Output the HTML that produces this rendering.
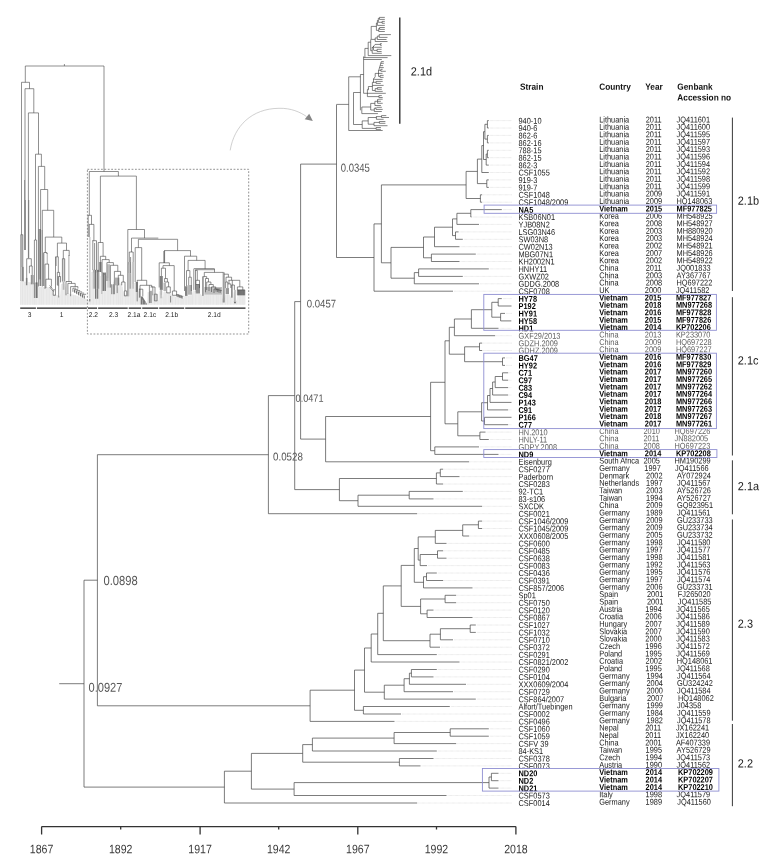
<!DOCTYPE html>
<html><head><meta charset="utf-8"><title>Phylogenetic tree</title>
<style>
html,body{margin:0;padding:0;background:#fff;}
body{width:765px;height:863px;overflow:hidden;}
svg{display:block;font-family:"Liberation Sans",sans-serif;text-rendering:geometricPrecision;}
.tr{fill:none;stroke:#444;stroke-width:0.7;}
.tr2{fill:none;stroke:#333;stroke-width:0.6;}
.dot{fill:none;stroke:#cbcbcb;stroke-width:0.5;stroke-dasharray:0.7 0.5;}
.nl{font-size:11.7px;fill:#565656;}
.hd{font-size:9px;font-weight:bold;fill:#111;}
.r{font-size:8.5px;fill:#1a1a1a;}
.rb{font-size:8.5px;font-weight:bold;fill:#000;}
.rl{font-size:8.5px;fill:#5e5e5e;}
.bx{fill:none;stroke:#8f8fd2;stroke-width:0.9;}
.bar{fill:none;stroke:#222;stroke-width:0.9;}
.bar2{fill:none;stroke:#222;stroke-width:1.3;}
.cl{font-size:12px;fill:#222;}
.ml{font-size:7px;fill:#222;}
.ax{font-size:12.2px;fill:#3c3c3c;}
</style></head><body>
<svg width="765" height="863" viewBox="0 0 765 863">
<path class="tr" d="M487.4 120.6H488.8M487.4 128H488.8M487.4 120.6V128M487.4 135.4H488.8M487.4 142.9H488.8M487.4 135.4V142.9M484.9 124.3H487.4M484.9 139.1H487.4M484.9 124.3V139.1M487.4 150.3H488.8M487.4 157.7H488.8M487.4 150.3V157.7M486.2 154H487.4M486.2 165.1H488.8M486.2 154V165.1M483.5 131.7H484.9M483.5 159.5H486.2M483.5 131.7V159.5M481.8 145.6H483.5M481.8 172.5H488.8M481.8 145.6V172.5M486.8 179.9H488.8M486.8 187.4H488.8M486.8 179.9V187.4M477.4 159.1H481.8M477.4 183.6H486.8M477.4 159.1V183.6M480.4 194.8H482.2M480.4 202.2H482.2M480.4 194.8V202.2M466.1 171.4H477.4M466.1 198.5H480.4M466.1 171.4V198.5M470.8 209.6H501.8M470.8 217H471.5M470.8 209.6V217M456.9 213.3H470.8M456.9 224.4H479M456.9 213.3V224.4M455.5 231.9H458.6M455.5 239.3H462.8M455.5 231.9V239.3M452.5 218.9H456.9M452.5 235.6H455.5M452.5 218.9V235.6M434.5 227.2H452.5M434.5 246.7H459.5M434.5 227.2V246.7M431.4 254.1H475.8M431.4 261.5H459.5M431.4 254.1V261.5M423.5 237H434.5M423.5 257.8H431.4M423.5 237V257.8M418.6 268.9H488.8M418.6 276.4H462.8M418.6 268.9V276.4M414.3 272.6H418.6M414.3 283.8H479M414.3 272.6V283.8M391 247.4H423.5M391 278.2H414.3M391 247.4V278.2M381.4 184.9H466.1M381.4 262.8H391M381.4 184.9V262.8M374 223.9H381.4M374 291.2H453M374 223.9V291.2M498.2 298.6H501.8M498.2 306H511.5M498.2 298.6V306M500.6 313.4H505M500.6 320.9H511.3M500.6 313.4V320.9M491.8 302.3H498.2M491.8 317.2H500.6M491.8 302.3V317.2M471.4 309.7H491.8M471.4 328.3H498.5M471.4 309.7V328.3M454.4 319H471.4M454.4 335.7H495.2M454.4 319V335.7M479.5 343.1H482.2M479.5 350.5H482.2M479.5 343.1V350.5M502.5 357.9H505M502.5 365.4H505M502.5 357.9V365.4M464.6 346.8H479.5M464.6 361.7H502.5M464.6 346.8V361.7M449.3 327.3H454.4M449.3 354.2H464.6M449.3 327.3V354.2M502.5 372.8H508.2M502.5 380.2H508.2M502.5 372.8V380.2M495.2 376.5H502.5M495.2 387.6H508.2M495.2 376.5V387.6M492.6 382H495.2M492.6 395H508.2M492.6 382V395M490 388.5H492.6M490 402.4H511.5M490 388.5V402.4M487.5 395.5H490M487.5 409.9H508.2M487.5 395.5V409.9M484.5 417.3H511.5M484.5 424.7H508.2M484.5 417.3V424.7M481.6 402.7H487.5M481.6 421H484.5M481.6 402.7V421M479.9 432.1H485.5M479.9 439.5H488.8M479.9 432.1V439.5M457.8 411.8H481.6M457.8 435.8H479.9M457.8 411.8V435.8M445 340.8H449.3M445 423.8H457.8M445 340.8V423.8M434.8 446.9H479M434.8 454.4H498.5M434.8 446.9V454.4M430.6 382.3H445M430.6 450.7H434.8M430.6 382.3V450.7M325.6 416.5H430.6M325.6 461.8H469.2M325.6 416.5V461.8M440.3 469.2H443.2M440.3 476.6H459.5M440.3 469.2V476.6M436.4 472.9H440.3M436.4 484H443.2M436.4 472.9V484M409.2 491.4H462.8M409.2 498.9H433.5M409.2 491.4V498.9M358 495.2H409.2M358 506.3H482.2M358 495.2V506.3M339.4 478.5H436.4M339.4 500.7H358M339.4 478.5V500.7M478.4 521.1H482.2M478.4 528.5H482.2M478.4 521.1V528.5M462.7 524.8H478.4M462.7 536H469.2M462.7 524.8V536M435.3 530.4H462.7M435.3 543.4H446.5M435.3 530.4V543.4M437.5 550.8H443.2M437.5 558.2H446.5M437.5 550.8V558.2M420.2 554.5H437.5M420.2 565.6H427M420.2 554.5V565.6M418.2 536.9H435.3M418.2 560.1H420.2M418.2 536.9V560.1M426.5 573H436.8M426.5 580.5H443.2M426.5 573V580.5M423.5 576.7H426.5M423.5 587.9H472.5M423.5 576.7V587.9M414.3 548.5H418.2M414.3 582.3H423.5M414.3 548.5V582.3M445.1 595.3H456.2M445.1 602.7H456.2M445.1 595.3V602.7M427.1 610.1H433.5M427.1 617.5H472.5M427.1 610.1V617.5M420.6 599H445.1M420.6 613.8H427.1M420.6 599V613.8M401.2 565.4H414.3M401.2 606.4H420.6M401.2 565.4V606.4M470.2 625H475.8M470.2 632.4H475.8M470.2 625V632.4M440.4 628.7H470.2M440.4 639.8H453M440.4 628.7V639.8M430 634.2H440.4M430 647.2H440M430 634.2V647.2M383.3 585.9H401.2M383.3 640.7H430M383.3 585.9V640.7M377.7 613.3H383.3M377.7 654.6H436.8M377.7 613.3V654.6M371.2 634H377.7M371.2 662H459.5M371.2 634V662M411.4 669.5H436.8M411.4 676.9H433.5M411.4 669.5V676.9M409.4 673.2H411.4M409.4 684.3H466M409.4 673.2V684.3M404.1 678.7H409.4M404.1 691.7H453M404.1 678.7V691.7M384.3 685.2H404.1M384.3 699.1H475.8M384.3 685.2V699.1M364.5 648H371.2M364.5 692.2H384.3M364.5 648V692.2M363.4 706.5H449.8M363.4 714H401M363.4 706.5V714M354.5 670.1H364.5M354.5 710.3H363.4M354.5 670.1V710.3M310.1 690.2H354.5M310.1 721.4H394.5M310.1 690.2V721.4M450.2 728.8H488.8M450.2 736.2H488.8M450.2 728.8V736.2M394.1 732.5H450.2M394.1 743.6H456.2M394.1 732.5V743.6M312.4 738.1H394.1M312.4 751H436.8M312.4 738.1V751M399.4 758.5H433.5M399.4 765.9H420.5M399.4 758.5V765.9M302.7 744.6H312.4M302.7 762.2H399.4M302.7 744.6V762.2M491.4 773.3H498.5M491.4 780.7H498.5M491.4 773.3V780.7M489 777H491.4M489 788.1H498.5M489 777V788.1M294.1 782.6H489M294.1 795.5H446.5M294.1 782.6V795.5M251.4 753.4H302.7M251.4 789.1H294.1M251.4 753.4V789.1M224.4 771.2H251.4M224.4 803H417.2M224.4 771.2V803M336.5 104.6V257.5M336.5 257.5H374M300.6 164.1H336.5M300.6 439.1H325.6M300.6 164.1V439.1M294.7 301.6H300.6M294.7 489.6H339.4M294.7 301.6V489.6M268.4 395.6H294.7M268.4 513.7H417.2M268.4 395.6V513.7M97.4 454.7H268.4M97.4 705.8H310.1M97.4 454.7V705.8M84 580.2H97.4M84 787.1H224.4M84 580.2V787.1M59.2 683.7H84"/>
<path class="dot" d="M489.9 120.6H511.8M489.9 128H511.8M489.9 135.4H511.8M489.9 142.9H511.8M489.9 150.3H511.8M489.9 157.7H511.8M489.9 165.1H511.8M489.9 172.5H511.8M489.9 179.9H511.8M489.9 187.4H511.8M483.4 194.8H511.8M483.4 202.2H511.8M502.9 209.6H511.8M472.7 217H511.8M480.2 224.4H511.8M459.8 231.9H511.8M463.9 239.3H511.8M460.7 246.7H511.8M476.9 254.1H511.8M460.7 261.5H511.8M489.9 268.9H511.8M463.9 276.4H511.8M480.2 283.8H511.8M454.2 291.2H511.8M502.9 298.6H511.8M506.2 313.4H511.8M499.7 328.3H511.8M496.4 335.7H511.8M483.4 343.1H511.8M483.4 350.5H511.8M506.2 357.9H511.8M506.2 365.4H511.8M509.4 372.8H511.8M509.4 380.2H511.8M509.4 387.6H511.8M509.4 395H511.8M509.4 409.9H511.8M509.4 424.7H511.8M486.7 432.1H511.8M489.9 439.5H511.8M480.2 446.9H511.8M499.7 454.4H511.8M470.4 461.8H511.8M444.4 469.2H511.8M460.7 476.6H511.8M444.4 484H511.8M463.9 491.4H511.8M434.7 498.9H511.8M483.4 506.3H511.8M483.4 521.1H511.8M483.4 528.5H511.8M470.4 536H511.8M447.7 543.4H511.8M444.4 550.8H511.8M447.7 558.2H511.8M428.2 565.6H511.8M437.9 573H511.8M444.4 580.5H511.8M473.7 587.9H511.8M457.4 595.3H511.8M457.4 602.7H511.8M434.7 610.1H511.8M473.7 617.5H511.8M476.9 625H511.8M476.9 632.4H511.8M454.2 639.8H511.8M441.2 647.2H511.8M437.9 654.6H511.8M460.7 662H511.8M437.9 669.5H511.8M434.7 676.9H511.8M467.2 684.3H511.8M454.2 691.7H511.8M476.9 699.1H511.8M450.9 706.5H511.8M402.2 714H511.8M395.7 721.4H511.8M489.9 728.8H511.8M489.9 736.2H511.8M457.4 743.6H511.8M437.9 751H511.8M434.7 758.5H511.8M421.7 765.9H511.8M499.7 773.3H511.8M499.7 780.7H511.8M499.7 788.1H511.8M447.7 795.5H511.8M418.4 803H511.8M418.4 513.7H511.8"/>
<path class="tr2" d="M336.5 104.4H348.7M348.7 76.8V130.5M348.7 76.8H360.4M348.7 130.5H382.7M360.4 74.5V110.3M360.4 74.5H363.6M363.6 56.4V93.3M363.6 93.3H385.8M353.5 92.5H360.4M353.5 92.5V124.5M353.5 124.5H362.2M362.2 120.9V128.4M362.2 128.4H376.1M376.1 127.5V129.4M376.1 127.5H380.9M376.1 129.4H380.9M362.2 120.9H368.2M368.2 117.5V124.2M368.2 117.5H376.4M376.4 116.3V119.3M376.4 116.6H381.5M381.5 115.6V117.5M381.5 115.6H386.3M381.5 117.5H389M376.4 119.3H383.6M368.2 124.2H374M374 122.4V125.7M374 122.4H379.4M379.4 121.5V123.3M379.4 121.5H385.4M379.4 123.3H385.4M374 125.7H387.5M361.8 107V113.6M361.8 113.6H377.9M361.8 107H370.7M370.7 103.4V110M370.7 103.4H374.9M374.9 101.3V105.5M374.9 101.3H377.6M377.6 99.2V103.3M378.8 99.2H382.7M377.6 100L378.8 99.2M377.6 101.3H380.9M377.6 103.3H382.7M374.9 105.5H380.9M370.7 110H374.3M374.3 108.2V111.5M374.3 108.2H376M376 107.3V109.4M376.7 107.3H381.8M376 109.4H382.7M374.3 111.5H381.8M367.4 89.8V96.6M367.4 96.6H378.9M378.9 95.6V97.5M378.9 95.6H381.8M378.9 97.5H382.7M367.4 89.8L368.4 88.5M368.4 86.5V90.2M368.4 86.5H372.4M372.4 82.3V90.5M372.4 85.4H383.6M372.4 90.5H375.2M375.2 88.6V91.4M375.2 88.6H377.3M377.3 87.6V89.3M377.3 87.6H381.8M377.3 89.3H381.8M375.2 91.4H382.7M372.4 82.3H373.5M373.5 78.5V82.7M373.5 82.3H376.1M376.1 81.4V83.4M376.1 81.4H382.7M376.1 83.4H380.8M374.2 79.4H382.5M373.5 79.4L375.2 76.6M375.2 73.4V76.6M375.2 73.4H382.5M378.5 70.5V76.4M378.5 76.4H380.1M380.1 75.4V77.4M380.1 75.4H383.6M380.1 77.4H383.6M381.3 61.6H383.8M380.7 63.3H383.8M380.2 65.6H383.1M379.6 67.6H383.8M379.1 70.3H380.9M380.9 69.3V71.3M380.9 69.3H382.7M380.9 71.3H385.8M381.3 61.6L378.5 71.1M363.6 59.5H381.8M364.9 57.6H387.6M363.6 57.6H364.9M364.9 48.4V57.6M364.9 48.4H368.2M368.2 42.2V55.6M368.2 55.6H391.3M368.2 42.2H370.7M370.7 39.4V50.7M370.7 50.7H372.2M372.2 47.1V53.3M372.2 53.3H381.8M372.2 48L375.1 44.4M375.1 44.4H380.4M380.4 43.6V45.3M380.4 43.6H381.8M380.4 45.3H381.8M374.2 47.3H381.8M373.8 50.4H377.1M377.1 49.3V51.5M377.1 49.3H381.6M377.1 51.5H381.6M373.5 46V50.4M371.2 26.4V39.4M371.2 39.4H375.2M375.2 37.9V41.5M375.2 41.5H387.5M375.2 37.9H377.3M377.3 36.1V39.5M377.3 39.5H386.5M377.3 36.1H379.2M379.2 34.6V37.4M379.2 34.6H390.9M379.2 37.4H387.5M371.2 26.4H376.4M376.4 23V30.4M376.4 23H377.4M377.4 20.5V25.4M377.4 25.4H384.8M377.4 20.5H378.3M378.3 18.4V22.3M378.3 22.3H382.1M382.1 21.4V23.3M382.1 21.4H384.8M382.1 23.3H384.8M378.3 18.4H379.4M379.4 17.4V19.4M379.4 17.4H384.8M379.4 19.4H384.8M376.4 30.4H378.7M378.7 28.5V31.5M378.7 31.5H384.8M378.7 28.5H379.6M379.6 27.5V29.4M379.6 27.5H384.8M379.6 29.4H384.8"/>
<polygon points="20.2,304.8 20.2,281 36,283 37,286.5 52,287.5 54,294 60,296 61,284 65,284 66,293 75,295 86.5,299 88,300 90.5,300 91,272 99,272 100,276 104,276 105,274 110,280 111,285 113,285 114,279 118,289 119,283 122,284 123,291 126.5,296 127.5,296 128,264 131,264 132,283 135.5,283 136,290 139.5,292 140,297 147,303 147.5,292 150,292 151,289 153,296 154,293 157,301 158.5,300 159,290 163,298 164,291 170,293 172,295.5 183,298.5 184.5,296 192,295 193,290 200,293.5 202.5,296 204.5,294.7 222,294.7 223,302 225.5,294 229,294 231.5,297.7 233,297.7 234,290 234.7,303 236,303 237.5,295.3 245.5,295.3 245.5,304.8" fill="#ececec"/><rect x="21.6" y="266.9" width="2.4" height="14.6" fill="#b4b4b4"/><rect x="25.8" y="277.9" width="1.8" height="7.3" fill="#b4b4b4"/><rect x="31.4" y="275" width="1.6" height="9.3" fill="#c0c0c0"/><rect x="35.4" y="282.4" width="2.3" height="15.6" fill="#8c8c8c"/><rect x="38.6" y="279.7" width="2.3" height="6.3" fill="#c4c4c4"/><rect x="55.6" y="257" width="1.4" height="9" fill="#c0c0c0"/><rect x="62.6" y="259" width="1.9" height="22.5" fill="#d2d2d2"/><rect x="62.6" y="281.5" width="1.9" height="8.3" fill="#b8b8b8"/><rect x="57.4" y="276" width="1.2" height="10" fill="#b0b0b0"/><rect x="88.9" y="237" width="1.7" height="61.7" fill="#cfcfcf"/><rect x="89.2" y="299" width="1.2" height="2.5" fill="#777"/><rect x="92.8" y="269.8" width="6.6" height="18.9" fill="#adadad"/><rect x="95.5" y="288.7" width="2.3" height="10" fill="#999"/><rect x="98.9" y="262" width="2.8" height="10" fill="#a2a2a2"/><rect x="101" y="272" width="1.8" height="22" fill="#c6c6c6"/><rect x="102.9" y="272.6" width="2.6" height="18.3" fill="#8a8a8a"/><rect x="107.2" y="264.2" width="2.8" height="16.7" fill="#bdbdbd"/><rect x="107.2" y="280.9" width="2.8" height="6.7" fill="#d0d0d0"/><rect x="115" y="277.6" width="4.4" height="7.7" fill="#b0b0b0"/><rect x="127.9" y="262" width="2.7" height="11.1" fill="#bcbcbc"/><rect x="129.4" y="273.1" width="1.7" height="15.6" fill="#8c8c8c"/><rect x="127.9" y="273.1" width="1.5" height="23.3" fill="#cdcdcd"/><rect x="132.2" y="262" width="1.7" height="26.7" fill="#bdbdbd"/><rect x="135.6" y="282" width="2.2" height="10" fill="#858585"/><rect x="139.3" y="289" width="1.7" height="8.6" fill="#b5b5b5"/><rect x="149.6" y="291" width="1.4" height="12" fill="#c2c2c2"/><rect x="154.6" y="294.4" width="2.4" height="6.4" fill="#cfcfcf"/><rect x="159.8" y="276" width="3" height="13.9" fill="#808080"/><rect x="160.2" y="289.9" width="2" height="8.4" fill="#b9b9b9"/><rect x="163.5" y="282.7" width="2.5" height="8.3" fill="#b5b5b5"/><rect x="185" y="286.3" width="2.5" height="9.6" fill="#858585"/><rect x="187.5" y="285" width="4.5" height="9.7" fill="#b3b3b3"/><rect x="195.5" y="284.5" width="4.5" height="9" fill="#8f8f8f"/><rect x="202.8" y="277" width="1.2" height="18.9" fill="#bdbdbd"/><rect x="204.3" y="287" width="17.7" height="7.7" fill="#c0c0c0"/><rect x="225.6" y="288.1" width="3.4" height="5.9" fill="#999"/><rect x="231.7" y="285" width="1.3" height="12.7" fill="#b5b5b5"/><rect x="237.5" y="290" width="7.2" height="5.3" fill="#a5a5a5"/><rect x="38.6" y="229" width="2.3" height="50.7" fill="#9c9c9c"/><polygon points="140.6,296.4 142.5,296.4 147.2,304.6 140.6,304.6" fill="#777"/><path d="M20.5 281.5V304.8M22.5 281.8V304.8M25.1 282.1V304.8M27.4 282.4V304.8M30.1 282.7V304.8M32.8 283.1V304.8M34.5 283.3V304.8M36.1 284V304.8M39.2 287.1V304.8M41.3 287.3V304.8M43.3 287.4V304.8M46.7 287.6V304.8M49.2 287.8V304.8M52.3 288.9V304.8M54.7 294.7V304.8M57.5 295.7V304.8M59.3 296.3V304.8M62.1 284.5V304.8M65.3 286.8V304.8M67.8 293.9V304.8M70.7 294.6V304.8M73.5 295.2V304.8M75.3 295.6V304.8M78.2 296.6V304.8M80.9 297.5V304.8M83 298.3V304.8M84.7 298.9V304.8M90.3 300.5V304.8M93.2 272.5V304.8M96.4 272.5V304.8M99.3 273.5V304.8M102.5 276.5V304.8M104.8 274.9V304.8M107.9 277.9V304.8M110.3 281.8V304.8M113.5 282.2V304.8M116.7 286.3V304.8M118.5 286.5V304.8M120.3 283.9V304.8M122.3 286.9V304.8M125.7 295.3V304.8M128.1 264.5V304.8M130.8 264.5V304.8M132.9 283.5V304.8M135.4 283.5V304.8M137.7 291.5V304.8M140 297.2V304.8M142.6 299.7V304.8M145.3 302V304.8M148.5 292.5V304.8M151.3 290.7V304.8M154.6 295.1V304.8M157.7 301V304.8M161.1 294.8V304.8M163.9 292V304.8M165.8 292.1V304.8M169 293.2V304.8M172.3 296.1V304.8M175.5 297V304.8M178.2 297.7V304.8M181.1 298.5V304.8M183 298.9V304.8M186.1 296.3V304.8M188.8 295.9V304.8M190.9 295.7V304.8M192.6 292.6V304.8M195.7 291.9V304.8M199.1 293.6V304.8M200.9 294.9V304.8M203.9 295.6V304.8M206.2 295.2V304.8M208.1 295.2V304.8M210.2 295.2V304.8M213.2 295.2V304.8M216.4 295.2V304.8M218.1 295.2V304.8M220.8 295.2V304.8M222.5 298.6V304.8M225.4 294.9V304.8M227.6 294.5V304.8M230.7 297.1V304.8M234.1 292.5V304.8M236.6 300.3V304.8M240 295.8V304.8M242.2 295.8V304.8M243.9 295.8V304.8" fill="none" stroke="#dfdfdf" stroke-width="0.5"/><path d="M68.6 255V281.5M69.1 255V281.5M47.1 253V264M47.5 253V264M42 230V286M43.6 253V286" fill="none" stroke="#b4b4b4" stroke-width="0.7"/><path d="M24.6 180V250M25.4 200V250M28.8 200V258M21.8 235V267M163.6 251V263M164.4 251V263" fill="none" stroke="#8a8a8a" stroke-width="0.7"/><path d="M25.3 66H104M64.4 64V66M25.3 66V82.3M104 66V171.5M21.5 82.3H29.5M21.5 82.3V234.7M29.5 82.3V88.7M20.8 234.7V281M22.8 234.7V281M20.8 234.7H22.8M25 88.7H33.8M25 88.7V250M33.8 88.7V112.9M28.4 112.9H38.5M28.4 112.9V258.2M38.5 112.9V154.2M35.5 154.2H41.4M35.5 154.2V240M41.4 154.2V166.4M34.4 240H36.6M34.4 240V298M36.6 240V298M38.4 166.4H44.7M38.4 166.4V286.5M44.7 166.4V189.5M40.6 189.5H47.7M40.6 189.5V286M47.7 189.5V210.3M42.3 210.3H53.7M42.3 210.3V286.5M53.7 210.3V237.1M26.7 258.7H31.3M26.7 258.7V285.2M31.3 258.7V266M29.4 266H32.2M29.4 266V273.3M32.2 266V275M31.3 275V284.3M33.1 275V284.3M45.3 237.1H61.8M45.3 237.1V252.5M43.8 252.5H46.9M43.8 252.5V286M46.9 252.5V254M45 264.1H48.6M45 264.1V288.9M48.6 264.1V279.2M45.9 279.2H51.4M45.9 279.2V288M51.4 279.2V286.6M49.6 287L53.7 291.6M49.6 285.5L52.5 288.5M53.2 289.8H55M53.2 289.8V295.3M53.2 295.3H55.5M61.8 237.1V243.1M57.4 243.1H66.5M57.4 243.1V256.8M55.5 256.8H58.3M55.5 256.8V295.3M58.3 256.8V272.4M57.3 272.4H59.6M57.3 272.4V285.2M59.6 272.4V276.5M58.7 276.5H60.5M58.7 276.5V297.5M60.5 276.5V282.4M66.5 243.1V250.4M63.3 250.4H69.2M63.3 250.4V258.7M62.4 258.7H64.7M62.4 258.7V281.5M64.7 258.7V281.5M69.2 250.4V256M66 281.5H71.5M66 281.5V295.3M71.5 281.5V283.4M67.9 283.4H75.2M67.9 283.4V294M75.2 283.4V286.6M70.6 286.6H77.9M70.6 286.6V296.2M77.9 286.6V288.5M72.9 288.2H76.1M72.9 288.2V291.8M74.5 289.4V292.4M74.9 289.4H78.1M74.9 289.4V293M76.5 290.6V293.6M76.9 290.6H80.1M76.9 290.6V294.2M78.5 291.8V294.8M78.9 291.9H82.1M78.9 291.9V295.5M80.5 293.1V296.1M80.9 293.1H84.1M80.9 293.1V296.7M82.5 294.3V297.3M82.9 294.3H86.1M82.9 294.3V297.9M84.5 295.5V298.5M89.3 171.5H118.4M89.3 171.5V215.3M118.4 171.5V176.1M88 215.3H91.5M88.2 215.3V237M91.5 215.3V224.4M89.1 224.4H93.9M89.3 224.4V237M93.9 224.4V240.7M92.3 240.7H96.5M92.8 240.7V270M96.5 240.7V270M94.6 243V270M95.5 270V298.7M97.8 270V298.7M100.4 176.1H136.4M100.4 176.1V242.5M136.4 176.1V229.5M98.2 242.5H103.1M98.2 242.5V272M103.1 242.5V256.3M100.4 256.3H105.7M100.4 256.3V272M105.7 256.3V259.6M102.1 259.6H109.2M102.1 259.6V272.6M109.2 259.6V262.6M106.9 262.6H113.4M106.9 262.6V281M113.4 262.6V265.3M110.4 265.3H117.8M110.4 265.3V287.6M117.8 265.3V271.4M114.4 271.4H120.6M114.4 271.4V294.2M120.6 271.4V275.3M118.3 275.3H123.3M118.3 275.3V285.3M123.3 275.3V282M121.7 282H125M121.7 282V285.3M125 282V290.9M124.4 290.9H126.7M124.4 290.9V295.9M126.7 290.9V295.9M124.4 295.9H126.7M111.7 284.2V294.2M113.3 284.2V294.2M117.2 285V293.1M103 272.6V291M105.4 272.6V291M127.8 229.5H144.5M127.8 229.5V296.3M144.5 229.5V238.1M131.5 238.1H158.3M138.4 239.3H177.6M131.5 238.1V252M129.3 252H133.2M129.3 252V262M133.2 252V262M130.6 257V273M138.4 239.3V247.6M135.2 247.6H141.7M135.2 247.6V282M141.7 247.6V280.3M137.2 280.3H146.7M137.2 280.3V301.4M146.7 280.3V285.3M140 285.3H151.7M140 285.3V289M151.7 285.3V287M139.4 288.7V297.6M139.4 289.2H142.8M142.8 289.2V296.4M150.6 287H155M149.4 285.3V303.1M151.1 290.9V303M152.8 286.4V295.3M155 287V294.2M154.4 294.2H157.2M154.4 294.2V300.9M157.2 294.2V300.9M154.4 300.9H157.2M177.6 239.3V250.6M164.1 250.6H190.7M164.6 250.6V262.8M159.2 262.8H169.4M159.2 262.8V287.5M169.4 262.8V265.6M163 265.6H174.2M163 265.6V268.2M174.2 265.6V291M172.4 291H176.6M172.4 291V295.3M176.6 291V295.3M172.4 295.3H176.6M161.4 268.2H165.5M161.4 268.2V276M165.5 268.2V278.5M164.6 278.5H167.4M164.6 278.5V282M167.4 278.5V282M164.6 282H168.6M168.6 282V286.9M166.7 286.9H170.3M166.7 286.9V292.9M170.3 286.9V292.9M166.7 292.9H170.3M170.6 295.9V302.5M176.6 294.6H178.8M176.8 294.6V296.6M177.8 294.9V296.9M178.1 295.2H180.3M178.3 295.2V297.2M179.3 295.5V297.5M179.6 295.7H181.8M179.8 295.7V297.7M180.8 296V298M181.1 296.3H183.3M181.3 296.3V298.3M182.3 296.6V298.6M190.5 250.6V256.2M184.5 256.2H196.7M184.5 256.2V291M196.7 256.2V260.4M188.1 260.4H205.1M188.1 260.4V270.6M205.1 260.4V268.8M186.5 270.6H189.9M186.5 270.6V286.3M189.9 270.6V277.2M188.7 277.2H191.3M188.7 277.2V285M191.3 277.2V291M194.1 268.6H214.5M195.5 269.7H214.5M193.8 268.6V289.9M195.5 269.7V289.9M195.5 270.4H197.3M197.3 270.4V280.3M195.9 280.3H199.5M195.9 280.3V284.5M199.5 280.3V288.1M195.9 284.5H199.5M214.5 268.8V272.4M204.3 272.4H223.5M204.3 272.4V276.6M202.7 276.6H206.7M202.7 276.6V295.9M206.7 276.6V278.5M205.5 278.5H208.5M205.5 278.5V292.3M208.5 278.5V282M206.7 282H210.9M206.7 282V290M210.9 282V284.5M209 284.5H213.3M209 284.5V291M213.3 284.5V286.9M211.5 286.9H215.7M211.5 286.9V292M215.7 286.9V289M214 289H220.5M214 289V293M216 289V291.6M216 289.3H217.6M217.4 289.4V292.1M217.4 289.8H219M218.8 289.9V292.5M218.8 290.2H220.4M220.2 290.3V292.9M220.2 290.6H221.8M223.2 272.4V302.5M224.2 272.4V302.5M224.2 274.2H228.4M228.4 274.2V277.2M226 277.2H231.6M226 277.2V282M231.6 277.2V280.3M228.4 280.3H239.8M225.6 282H227.8M225.6 282V288.1M227.8 282V288.1M229 280.3V283.9M227.8 283.9H230.8M230.8 283.9V288M232.3 280.3V285M231.6 285H234.4M231.6 285V297.7M234.4 285V289.9M235 289.9V303.1M234.3 301.8L235 303.3M235.7 301.8L235 303.3M239.8 280.3V286.9M237.4 286.9H242.8M237.4 286.9V295.3M242.8 286.9V289.9M237.4 289.9H244.8M244.8 289.9V295.3M238.5 289.9V295.3M239.6 289.9V295.3M240.7 289.9V295.3M241.8 289.9V295.3M242.9 289.9V295.3M243.9 289.9V295.3" fill="none" stroke="#444" stroke-width="0.6"/><path d="M20.2 308.2H35.9M36.9 308.2H86.9M87.9 308.2H97.1M98.1 308.2H127.7M128.7 308.2H141.2M142.2 308.2H158.2M159.2 308.2H184.2M185.2 308.2H245.5" fill="none" stroke="#1e1e1e" stroke-width="1.3"/><text transform="translate(29.6 317.1) scale(0.95 1) rotate(0.03)" class="ml" text-anchor="middle">3</text><text transform="translate(61.6 317.1) scale(0.95 1) rotate(0.03)" class="ml" text-anchor="middle">1</text><text transform="translate(93.3 317.1) scale(0.95 1) rotate(0.03)" class="ml" text-anchor="middle">2.2</text><text transform="translate(113.6 317.1) scale(0.95 1) rotate(0.03)" class="ml" text-anchor="middle">2.3</text><text transform="translate(133.9 317.1) scale(0.95 1) rotate(0.03)" class="ml" text-anchor="middle">2.1a</text><text transform="translate(149.9 317.1) scale(0.95 1) rotate(0.03)" class="ml" text-anchor="middle">2.1c</text><text transform="translate(171.8 317.1) scale(0.95 1) rotate(0.03)" class="ml" text-anchor="middle">2.1b</text><text transform="translate(214.2 317.1) scale(0.95 1) rotate(0.03)" class="ml" text-anchor="middle">2.1d</text>
<rect x="87.4" y="169.3" width="161.3" height="164.7" fill="none" stroke="#4a4a4a" stroke-width="0.6" stroke-dasharray="1.8 1.6"/>
<path d="M230.2 150.4C234 126 252 108.5 279 108.3C291 108 300 112 306.5 116.5" fill="none" stroke="#b0b0b0" stroke-width="0.6"/>
<path d="M304.7 119.2L309.2 113.8L312.8 121.1Z" fill="#858585"/>
<text transform="translate(340.8 171.8) scale(0.813 1) rotate(0.03)" class="nl" style="font-size:11.7px">0.0345</text>
<text transform="translate(306.8 307.6) scale(0.855 1) rotate(0.03)" class="nl" style="font-size:11.2px">0.0457</text>
<text transform="translate(295.6 401.7) scale(0.869 1) rotate(0.03)" class="nl" style="font-size:10.5px">0.0471</text>
<text transform="translate(273 460.4) scale(0.865 1) rotate(0.03)" class="nl" style="font-size:11.3px">0.0528</text>
<text transform="translate(103.5 584.9) scale(0.856 1) rotate(0.03)" class="nl" style="font-size:13.1px">0.0898</text>
<text transform="translate(88.5 691.8) scale(0.863 1) rotate(0.03)" class="nl" style="font-size:12.85px">0.0927</text>
<text transform="translate(520 89.7) scale(0.92 1) rotate(0.03)" class="hd">Strain</text>
<text transform="translate(599.2 89.7) scale(0.92 1) rotate(0.03)" class="hd">Country</text>
<text transform="translate(645.3 89.7) scale(0.92 1) rotate(0.03)" class="hd">Year</text>
<text transform="translate(677.3 89.7) scale(0.92 1) rotate(0.03)" class="hd">Genbank</text>
<text transform="translate(677.3 100.5) scale(0.92 1) rotate(0.03)" class="hd">Accession no</text>
<text transform="translate(518.5 123.65) scale(0.87 1) rotate(0.03)" class="r">940-10</text>
<text transform="translate(599.2 122.4) scale(0.87 1) rotate(0.03)" class="r">Lithuania</text>
<text transform="translate(645.7 122.4) scale(0.87 1) rotate(0.03)" class="r">2011</text>
<text transform="translate(676.5 122.4) scale(0.87 1) rotate(0.03)" class="r">JQ411601</text>
<text transform="translate(518.5 131.07) scale(0.87 1) rotate(0.03)" class="r">940-6</text>
<text transform="translate(599.2 129.82) scale(0.87 1) rotate(0.03)" class="r">Lithuania</text>
<text transform="translate(645.7 129.82) scale(0.87 1) rotate(0.03)" class="r">2011</text>
<text transform="translate(676.5 129.82) scale(0.87 1) rotate(0.03)" class="r">JQ411600</text>
<text transform="translate(518.5 138.48) scale(0.87 1) rotate(0.03)" class="r">862-6</text>
<text transform="translate(599.2 137.23) scale(0.87 1) rotate(0.03)" class="r">Lithuania</text>
<text transform="translate(645.7 137.23) scale(0.87 1) rotate(0.03)" class="r">2011</text>
<text transform="translate(676.5 137.23) scale(0.87 1) rotate(0.03)" class="r">JQ411595</text>
<text transform="translate(518.5 145.9) scale(0.87 1) rotate(0.03)" class="r">862-16</text>
<text transform="translate(599.2 144.65) scale(0.87 1) rotate(0.03)" class="r">Lithuania</text>
<text transform="translate(645.7 144.65) scale(0.87 1) rotate(0.03)" class="r">2011</text>
<text transform="translate(676.5 144.65) scale(0.87 1) rotate(0.03)" class="r">JQ411597</text>
<text transform="translate(518.5 153.32) scale(0.87 1) rotate(0.03)" class="r">788-15</text>
<text transform="translate(599.2 152.07) scale(0.87 1) rotate(0.03)" class="r">Lithuania</text>
<text transform="translate(645.7 152.07) scale(0.87 1) rotate(0.03)" class="r">2011</text>
<text transform="translate(676.5 152.07) scale(0.87 1) rotate(0.03)" class="r">JQ411593</text>
<text transform="translate(518.5 160.74) scale(0.87 1) rotate(0.03)" class="r">862-15</text>
<text transform="translate(599.2 159.49) scale(0.87 1) rotate(0.03)" class="r">Lithuania</text>
<text transform="translate(645.7 159.49) scale(0.87 1) rotate(0.03)" class="r">2011</text>
<text transform="translate(676.5 159.49) scale(0.87 1) rotate(0.03)" class="r">JQ411596</text>
<text transform="translate(518.5 168.15) scale(0.87 1) rotate(0.03)" class="r">862-3</text>
<text transform="translate(599.2 166.9) scale(0.87 1) rotate(0.03)" class="r">Lithuania</text>
<text transform="translate(645.7 166.9) scale(0.87 1) rotate(0.03)" class="r">2011</text>
<text transform="translate(676.5 166.9) scale(0.87 1) rotate(0.03)" class="r">JQ411594</text>
<text transform="translate(518.5 175.57) scale(0.87 1) rotate(0.03)" class="r">CSF1055</text>
<text transform="translate(599.2 174.32) scale(0.87 1) rotate(0.03)" class="r">Lithuania</text>
<text transform="translate(645.7 174.32) scale(0.87 1) rotate(0.03)" class="r">2011</text>
<text transform="translate(676.5 174.32) scale(0.87 1) rotate(0.03)" class="r">JQ411592</text>
<text transform="translate(518.5 182.99) scale(0.87 1) rotate(0.03)" class="r">919-3</text>
<text transform="translate(599.2 181.74) scale(0.87 1) rotate(0.03)" class="r">Lithuania</text>
<text transform="translate(645.7 181.74) scale(0.87 1) rotate(0.03)" class="r">2011</text>
<text transform="translate(676.5 181.74) scale(0.87 1) rotate(0.03)" class="r">JQ411598</text>
<text transform="translate(518.5 190.4) scale(0.87 1) rotate(0.03)" class="r">919-7</text>
<text transform="translate(599.2 189.15) scale(0.87 1) rotate(0.03)" class="r">Lithuania</text>
<text transform="translate(645.7 189.15) scale(0.87 1) rotate(0.03)" class="r">2011</text>
<text transform="translate(676.5 189.15) scale(0.87 1) rotate(0.03)" class="r">JQ411599</text>
<text transform="translate(518.5 197.82) scale(0.87 1) rotate(0.03)" class="r">CSF1048</text>
<text transform="translate(599.2 196.57) scale(0.87 1) rotate(0.03)" class="r">Lithuania</text>
<text transform="translate(645.7 196.57) scale(0.87 1) rotate(0.03)" class="r">2009</text>
<text transform="translate(676.5 196.57) scale(0.87 1) rotate(0.03)" class="r">JQ411591</text>
<text transform="translate(518.5 205.24) scale(0.87 1) rotate(0.03)" class="r">CSF1048/2009</text>
<text transform="translate(599.2 203.99) scale(0.87 1) rotate(0.03)" class="r">Lithuania</text>
<text transform="translate(645.7 203.99) scale(0.87 1) rotate(0.03)" class="r">2009</text>
<text transform="translate(676.5 203.99) scale(0.87 1) rotate(0.03)" class="r">HQ148063</text>
<text transform="translate(518.5 212.65) scale(0.87 1) rotate(0.03)" class="rb">NA5</text>
<text transform="translate(599.2 211.4) scale(0.87 1) rotate(0.03)" class="rb">Vietnam</text>
<text transform="translate(645.7 211.4) scale(0.87 1) rotate(0.03)" class="rb">2015</text>
<text transform="translate(676.5 211.4) scale(0.87 1) rotate(0.03)" class="rb">MF977825</text>
<text transform="translate(518.5 220.07) scale(0.87 1) rotate(0.03)" class="r">KSB06N01</text>
<text transform="translate(599.2 218.82) scale(0.87 1) rotate(0.03)" class="r">Korea</text>
<text transform="translate(645.7 218.82) scale(0.87 1) rotate(0.03)" class="r">2006</text>
<text transform="translate(676.5 218.82) scale(0.87 1) rotate(0.03)" class="r">MH548925</text>
<text transform="translate(518.5 227.49) scale(0.87 1) rotate(0.03)" class="r">YJB08N2</text>
<text transform="translate(599.2 226.24) scale(0.87 1) rotate(0.03)" class="r">Korea</text>
<text transform="translate(645.7 226.24) scale(0.87 1) rotate(0.03)" class="r">2008</text>
<text transform="translate(676.5 226.24) scale(0.87 1) rotate(0.03)" class="r">MH548927</text>
<text transform="translate(518.5 234.91) scale(0.87 1) rotate(0.03)" class="r">LSG03N46</text>
<text transform="translate(599.2 233.66) scale(0.87 1) rotate(0.03)" class="r">Korea</text>
<text transform="translate(645.7 233.66) scale(0.87 1) rotate(0.03)" class="r">2003</text>
<text transform="translate(676.5 233.66) scale(0.87 1) rotate(0.03)" class="r">MH880920</text>
<text transform="translate(518.5 242.32) scale(0.87 1) rotate(0.03)" class="r">SW03N8</text>
<text transform="translate(599.2 241.07) scale(0.87 1) rotate(0.03)" class="r">Korea</text>
<text transform="translate(645.7 241.07) scale(0.87 1) rotate(0.03)" class="r">2003</text>
<text transform="translate(676.5 241.07) scale(0.87 1) rotate(0.03)" class="r">MH548924</text>
<text transform="translate(518.5 249.74) scale(0.87 1) rotate(0.03)" class="r">CW02N13</text>
<text transform="translate(599.2 248.49) scale(0.87 1) rotate(0.03)" class="r">Korea</text>
<text transform="translate(645.7 248.49) scale(0.87 1) rotate(0.03)" class="r">2002</text>
<text transform="translate(676.5 248.49) scale(0.87 1) rotate(0.03)" class="r">MH548921</text>
<text transform="translate(518.5 257.16) scale(0.87 1) rotate(0.03)" class="r">MBG07N1</text>
<text transform="translate(599.2 255.91) scale(0.87 1) rotate(0.03)" class="r">Korea</text>
<text transform="translate(645.7 255.91) scale(0.87 1) rotate(0.03)" class="r">2007</text>
<text transform="translate(676.5 255.91) scale(0.87 1) rotate(0.03)" class="r">MH548926</text>
<text transform="translate(518.5 264.57) scale(0.87 1) rotate(0.03)" class="r">KH2002N1</text>
<text transform="translate(599.2 263.32) scale(0.87 1) rotate(0.03)" class="r">Korea</text>
<text transform="translate(645.7 263.32) scale(0.87 1) rotate(0.03)" class="r">2002</text>
<text transform="translate(676.5 263.32) scale(0.87 1) rotate(0.03)" class="r">MH548922</text>
<text transform="translate(518.5 271.99) scale(0.87 1) rotate(0.03)" class="r">HNHY11</text>
<text transform="translate(599.2 270.74) scale(0.87 1) rotate(0.03)" class="r">China</text>
<text transform="translate(645.7 270.74) scale(0.87 1) rotate(0.03)" class="r">2011</text>
<text transform="translate(676.5 270.74) scale(0.87 1) rotate(0.03)" class="r">JQ001833</text>
<text transform="translate(518.5 279.41) scale(0.87 1) rotate(0.03)" class="r">GXWZ02</text>
<text transform="translate(599.2 278.16) scale(0.87 1) rotate(0.03)" class="r">China</text>
<text transform="translate(645.7 278.16) scale(0.87 1) rotate(0.03)" class="r">2003</text>
<text transform="translate(676.5 278.16) scale(0.87 1) rotate(0.03)" class="r">AY367767</text>
<text transform="translate(518.5 286.82) scale(0.87 1) rotate(0.03)" class="r">GDDG.2008</text>
<text transform="translate(599.2 285.57) scale(0.87 1) rotate(0.03)" class="r">China</text>
<text transform="translate(645.7 285.57) scale(0.87 1) rotate(0.03)" class="r">2008</text>
<text transform="translate(676.5 285.57) scale(0.87 1) rotate(0.03)" class="r">HQ697222</text>
<text transform="translate(518.5 294.24) scale(0.87 1) rotate(0.03)" class="r">CSF0708</text>
<text transform="translate(599.2 292.99) scale(0.87 1) rotate(0.03)" class="r">UK</text>
<text transform="translate(644.8 292.99) scale(0.87 1) rotate(0.03)" class="r">2000</text>
<text transform="translate(675.9 292.99) scale(0.87 1) rotate(0.03)" class="r">JQ411582</text>
<text transform="translate(518.5 301.66) scale(0.87 1) rotate(0.03)" class="rb">HY78</text>
<text transform="translate(599.2 300.41) scale(0.87 1) rotate(0.03)" class="rb">Vietnam</text>
<text transform="translate(644.8 300.41) scale(0.87 1) rotate(0.03)" class="rb">2015</text>
<text transform="translate(675.9 300.41) scale(0.87 1) rotate(0.03)" class="rb">MF977827</text>
<text transform="translate(518.5 309.07) scale(0.87 1) rotate(0.03)" class="rb">P192</text>
<text transform="translate(599.2 307.82) scale(0.87 1) rotate(0.03)" class="rb">Vietnam</text>
<text transform="translate(644.8 307.82) scale(0.87 1) rotate(0.03)" class="rb">2018</text>
<text transform="translate(675.9 307.82) scale(0.87 1) rotate(0.03)" class="rb">MN977268</text>
<text transform="translate(518.5 316.49) scale(0.87 1) rotate(0.03)" class="rb">HY91</text>
<text transform="translate(599.2 315.24) scale(0.87 1) rotate(0.03)" class="rb">Vietnam</text>
<text transform="translate(644.8 315.24) scale(0.87 1) rotate(0.03)" class="rb">2016</text>
<text transform="translate(675.9 315.24) scale(0.87 1) rotate(0.03)" class="rb">MF977828</text>
<text transform="translate(518.5 323.91) scale(0.87 1) rotate(0.03)" class="rb">HY58</text>
<text transform="translate(599.2 322.66) scale(0.87 1) rotate(0.03)" class="rb">Vietnam</text>
<text transform="translate(644.8 322.66) scale(0.87 1) rotate(0.03)" class="rb">2015</text>
<text transform="translate(675.9 322.66) scale(0.87 1) rotate(0.03)" class="rb">MF977826</text>
<text transform="translate(518.5 331.33) scale(0.87 1) rotate(0.03)" class="rb">HD1</text>
<text transform="translate(599.2 330.08) scale(0.87 1) rotate(0.03)" class="rb">Vietnam</text>
<text transform="translate(644.8 330.08) scale(0.87 1) rotate(0.03)" class="rb">2014</text>
<text transform="translate(675.9 330.08) scale(0.87 1) rotate(0.03)" class="rb">KP702206</text>
<text transform="translate(518.5 338.74) scale(0.87 1) rotate(0.03)" class="rl">GXF29/2013</text>
<text transform="translate(599.2 337.49) scale(0.87 1) rotate(0.03)" class="rl">China</text>
<text transform="translate(644.8 337.49) scale(0.87 1) rotate(0.03)" class="rl">2013</text>
<text transform="translate(675.9 337.49) scale(0.87 1) rotate(0.03)" class="rl">KP233070</text>
<text transform="translate(518.5 346.16) scale(0.87 1) rotate(0.03)" class="rl">GDZH.2009</text>
<text transform="translate(599.2 344.91) scale(0.87 1) rotate(0.03)" class="rl">China</text>
<text transform="translate(644.8 344.91) scale(0.87 1) rotate(0.03)" class="rl">2009</text>
<text transform="translate(675.9 344.91) scale(0.87 1) rotate(0.03)" class="rl">HQ697228</text>
<text transform="translate(518.5 353.58) scale(0.87 1) rotate(0.03)" class="rl">GDHZ.2009</text>
<text transform="translate(599.2 352.33) scale(0.87 1) rotate(0.03)" class="rl">China</text>
<text transform="translate(644.8 352.33) scale(0.87 1) rotate(0.03)" class="rl">2009</text>
<text transform="translate(675.9 352.33) scale(0.87 1) rotate(0.03)" class="rl">HQ697227</text>
<text transform="translate(518.5 360.99) scale(0.87 1) rotate(0.03)" class="rb">BG47</text>
<text transform="translate(599.2 359.74) scale(0.87 1) rotate(0.03)" class="rb">Vietnam</text>
<text transform="translate(644.8 359.74) scale(0.87 1) rotate(0.03)" class="rb">2016</text>
<text transform="translate(675.9 359.74) scale(0.87 1) rotate(0.03)" class="rb">MF977830</text>
<text transform="translate(518.5 368.41) scale(0.87 1) rotate(0.03)" class="rb">HY92</text>
<text transform="translate(599.2 367.16) scale(0.87 1) rotate(0.03)" class="rb">Vietnam</text>
<text transform="translate(644.8 367.16) scale(0.87 1) rotate(0.03)" class="rb">2016</text>
<text transform="translate(675.9 367.16) scale(0.87 1) rotate(0.03)" class="rb">MF977829</text>
<text transform="translate(518.5 375.83) scale(0.87 1) rotate(0.03)" class="rb">C71</text>
<text transform="translate(599.2 374.58) scale(0.87 1) rotate(0.03)" class="rb">Vietnam</text>
<text transform="translate(644.8 374.58) scale(0.87 1) rotate(0.03)" class="rb">2017</text>
<text transform="translate(675.9 374.58) scale(0.87 1) rotate(0.03)" class="rb">MN977260</text>
<text transform="translate(518.5 383.24) scale(0.87 1) rotate(0.03)" class="rb">C97</text>
<text transform="translate(599.2 381.99) scale(0.87 1) rotate(0.03)" class="rb">Vietnam</text>
<text transform="translate(644.8 381.99) scale(0.87 1) rotate(0.03)" class="rb">2017</text>
<text transform="translate(675.9 381.99) scale(0.87 1) rotate(0.03)" class="rb">MN977265</text>
<text transform="translate(518.5 390.66) scale(0.87 1) rotate(0.03)" class="rb">C83</text>
<text transform="translate(599.2 389.41) scale(0.87 1) rotate(0.03)" class="rb">Vietnam</text>
<text transform="translate(644.8 389.41) scale(0.87 1) rotate(0.03)" class="rb">2017</text>
<text transform="translate(675.9 389.41) scale(0.87 1) rotate(0.03)" class="rb">MN977262</text>
<text transform="translate(518.5 398.08) scale(0.87 1) rotate(0.03)" class="rb">C94</text>
<text transform="translate(599.2 396.83) scale(0.87 1) rotate(0.03)" class="rb">Vietnam</text>
<text transform="translate(644.8 396.83) scale(0.87 1) rotate(0.03)" class="rb">2017</text>
<text transform="translate(675.9 396.83) scale(0.87 1) rotate(0.03)" class="rb">MN977264</text>
<text transform="translate(518.5 405.5) scale(0.87 1) rotate(0.03)" class="rb">P143</text>
<text transform="translate(599.2 404.25) scale(0.87 1) rotate(0.03)" class="rb">Vietnam</text>
<text transform="translate(644.8 404.25) scale(0.87 1) rotate(0.03)" class="rb">2018</text>
<text transform="translate(675.9 404.25) scale(0.87 1) rotate(0.03)" class="rb">MN977266</text>
<text transform="translate(518.5 412.91) scale(0.87 1) rotate(0.03)" class="rb">C91</text>
<text transform="translate(599.2 411.66) scale(0.87 1) rotate(0.03)" class="rb">Vietnam</text>
<text transform="translate(644.8 411.66) scale(0.87 1) rotate(0.03)" class="rb">2017</text>
<text transform="translate(675.9 411.66) scale(0.87 1) rotate(0.03)" class="rb">MN977263</text>
<text transform="translate(518.5 420.33) scale(0.87 1) rotate(0.03)" class="rb">P166</text>
<text transform="translate(599.2 419.08) scale(0.87 1) rotate(0.03)" class="rb">Vietnam</text>
<text transform="translate(644.8 419.08) scale(0.87 1) rotate(0.03)" class="rb">2018</text>
<text transform="translate(675.9 419.08) scale(0.87 1) rotate(0.03)" class="rb">MN977267</text>
<text transform="translate(518.5 427.75) scale(0.87 1) rotate(0.03)" class="rb">C77</text>
<text transform="translate(599.2 426.5) scale(0.87 1) rotate(0.03)" class="rb">Vietnam</text>
<text transform="translate(644.8 426.5) scale(0.87 1) rotate(0.03)" class="rb">2017</text>
<text transform="translate(675.9 426.5) scale(0.87 1) rotate(0.03)" class="rb">MN977261</text>
<text transform="translate(518.5 435.16) scale(0.87 1) rotate(0.03)" class="rl">HN.2010</text>
<text transform="translate(599.2 433.91) scale(0.87 1) rotate(0.03)" class="rl">China</text>
<text transform="translate(643.4 433.91) scale(0.87 1) rotate(0.03)" class="rl">2010</text>
<text transform="translate(674.5 433.91) scale(0.87 1) rotate(0.03)" class="rl">HQ697226</text>
<text transform="translate(518.5 442.58) scale(0.87 1) rotate(0.03)" class="rl">HNLY-11</text>
<text transform="translate(599.2 441.33) scale(0.87 1) rotate(0.03)" class="rl">China</text>
<text transform="translate(643.4 441.33) scale(0.87 1) rotate(0.03)" class="rl">2011</text>
<text transform="translate(674.5 441.33) scale(0.87 1) rotate(0.03)" class="rl">JN882005</text>
<text transform="translate(518.5 450) scale(0.87 1) rotate(0.03)" class="rl">GDPY.2008</text>
<text transform="translate(599.2 448.75) scale(0.87 1) rotate(0.03)" class="rl">China</text>
<text transform="translate(643.4 448.75) scale(0.87 1) rotate(0.03)" class="rl">2008</text>
<text transform="translate(674.5 448.75) scale(0.87 1) rotate(0.03)" class="rl">HQ697223</text>
<text transform="translate(518.5 457.42) scale(0.87 1) rotate(0.03)" class="rb">ND9</text>
<text transform="translate(599.2 456.17) scale(0.87 1) rotate(0.03)" class="rb">Vietnam</text>
<text transform="translate(644.8 456.17) scale(0.87 1) rotate(0.03)" class="rb">2014</text>
<text transform="translate(675.9 456.17) scale(0.87 1) rotate(0.03)" class="rb">KP702208</text>
<text transform="translate(518.5 464.83) scale(0.87 1) rotate(0.03)" class="r">Eisenburg</text>
<text transform="translate(599.2 463.58) scale(0.87 1) rotate(0.03)" class="r">South Africa</text>
<text transform="translate(643.4 463.58) scale(0.87 1) rotate(0.03)" class="r">2005</text>
<text transform="translate(674.5 463.58) scale(0.87 1) rotate(0.03)" class="r">HM190299</text>
<text transform="translate(518.5 472.25) scale(0.87 1) rotate(0.03)" class="r">CSF0277</text>
<text transform="translate(599.2 471) scale(0.87 1) rotate(0.03)" class="r">Germany</text>
<text transform="translate(644.3 471) scale(0.87 1) rotate(0.03)" class="r">1997</text>
<text transform="translate(675.1 471) scale(0.87 1) rotate(0.03)" class="r">JQ411566</text>
<text transform="translate(518.5 479.67) scale(0.87 1) rotate(0.03)" class="r">Paderborn</text>
<text transform="translate(599.2 478.42) scale(0.87 1) rotate(0.03)" class="r">Denmark</text>
<text transform="translate(646.1 478.42) scale(0.87 1) rotate(0.03)" class="r">2002</text>
<text transform="translate(676.9 478.42) scale(0.87 1) rotate(0.03)" class="r">AY072924</text>
<text transform="translate(518.5 487.08) scale(0.87 1) rotate(0.03)" class="r">CSF0283</text>
<text transform="translate(599.2 485.83) scale(0.87 1) rotate(0.03)" class="r">Netherlands</text>
<text transform="translate(646.1 485.83) scale(0.87 1) rotate(0.03)" class="r">1997</text>
<text transform="translate(676.9 485.83) scale(0.87 1) rotate(0.03)" class="r">JQ411567</text>
<text transform="translate(518.5 494.5) scale(0.87 1) rotate(0.03)" class="r">92-TC1</text>
<text transform="translate(599.2 493.25) scale(0.87 1) rotate(0.03)" class="r">Taiwan</text>
<text transform="translate(646.1 493.25) scale(0.87 1) rotate(0.03)" class="r">2003</text>
<text transform="translate(676.9 493.25) scale(0.87 1) rotate(0.03)" class="r">AY526726</text>
<text transform="translate(518.5 501.92) scale(0.87 1) rotate(0.03)" class="r">83-s106</text>
<text transform="translate(599.2 500.67) scale(0.87 1) rotate(0.03)" class="r">Taiwan</text>
<text transform="translate(646.1 500.67) scale(0.87 1) rotate(0.03)" class="r">1994</text>
<text transform="translate(676.9 500.67) scale(0.87 1) rotate(0.03)" class="r">AY526727</text>
<text transform="translate(518.5 509.33) scale(0.87 1) rotate(0.03)" class="r">SXCDK</text>
<text transform="translate(599.2 508.08) scale(0.87 1) rotate(0.03)" class="r">China</text>
<text transform="translate(646.1 508.08) scale(0.87 1) rotate(0.03)" class="r">2009</text>
<text transform="translate(676.9 508.08) scale(0.87 1) rotate(0.03)" class="r">GQ923951</text>
<text transform="translate(518.5 516.75) scale(0.87 1) rotate(0.03)" class="r">CSF0021</text>
<text transform="translate(599.2 515.5) scale(0.87 1) rotate(0.03)" class="r">Germany</text>
<text transform="translate(646.1 515.5) scale(0.87 1) rotate(0.03)" class="r">1989</text>
<text transform="translate(676.9 515.5) scale(0.87 1) rotate(0.03)" class="r">JQ411561</text>
<text transform="translate(518.5 524.17) scale(0.87 1) rotate(0.03)" class="r">CSF1046/2009</text>
<text transform="translate(599.2 522.92) scale(0.87 1) rotate(0.03)" class="r">Germany</text>
<text transform="translate(646.1 522.92) scale(0.87 1) rotate(0.03)" class="r">2009</text>
<text transform="translate(676.9 522.92) scale(0.87 1) rotate(0.03)" class="r">GU233733</text>
<text transform="translate(518.5 531.58) scale(0.87 1) rotate(0.03)" class="r">CSF1045/2009</text>
<text transform="translate(599.2 530.33) scale(0.87 1) rotate(0.03)" class="r">Germany</text>
<text transform="translate(646.1 530.33) scale(0.87 1) rotate(0.03)" class="r">2009</text>
<text transform="translate(676.9 530.33) scale(0.87 1) rotate(0.03)" class="r">GU233734</text>
<text transform="translate(518.5 539) scale(0.87 1) rotate(0.03)" class="r">XXX0608/2005</text>
<text transform="translate(599.2 537.75) scale(0.87 1) rotate(0.03)" class="r">Germany</text>
<text transform="translate(646.1 537.75) scale(0.87 1) rotate(0.03)" class="r">2005</text>
<text transform="translate(676.9 537.75) scale(0.87 1) rotate(0.03)" class="r">GU233732</text>
<text transform="translate(518.5 546.42) scale(0.87 1) rotate(0.03)" class="r">CSF0600</text>
<text transform="translate(599.2 545.17) scale(0.87 1) rotate(0.03)" class="r">Germany</text>
<text transform="translate(646.1 545.17) scale(0.87 1) rotate(0.03)" class="r">1998</text>
<text transform="translate(676.9 545.17) scale(0.87 1) rotate(0.03)" class="r">JQ411580</text>
<text transform="translate(518.5 553.84) scale(0.87 1) rotate(0.03)" class="r">CSF0485</text>
<text transform="translate(599.2 552.59) scale(0.87 1) rotate(0.03)" class="r">Germany</text>
<text transform="translate(646.1 552.59) scale(0.87 1) rotate(0.03)" class="r">1997</text>
<text transform="translate(676.9 552.59) scale(0.87 1) rotate(0.03)" class="r">JQ411577</text>
<text transform="translate(518.5 561.25) scale(0.87 1) rotate(0.03)" class="r">CSF0638</text>
<text transform="translate(599.2 560) scale(0.87 1) rotate(0.03)" class="r">Germany</text>
<text transform="translate(646.1 560) scale(0.87 1) rotate(0.03)" class="r">1998</text>
<text transform="translate(676.9 560) scale(0.87 1) rotate(0.03)" class="r">JQ411581</text>
<text transform="translate(518.5 568.67) scale(0.87 1) rotate(0.03)" class="r">CSF0083</text>
<text transform="translate(599.2 567.42) scale(0.87 1) rotate(0.03)" class="r">Germany</text>
<text transform="translate(646.1 567.42) scale(0.87 1) rotate(0.03)" class="r">1992</text>
<text transform="translate(676.9 567.42) scale(0.87 1) rotate(0.03)" class="r">JQ411563</text>
<text transform="translate(518.5 576.09) scale(0.87 1) rotate(0.03)" class="r">CSF0436</text>
<text transform="translate(599.2 574.84) scale(0.87 1) rotate(0.03)" class="r">Germany</text>
<text transform="translate(646.1 574.84) scale(0.87 1) rotate(0.03)" class="r">1995</text>
<text transform="translate(676.9 574.84) scale(0.87 1) rotate(0.03)" class="r">JQ411576</text>
<text transform="translate(518.5 583.5) scale(0.87 1) rotate(0.03)" class="r">CSF0391</text>
<text transform="translate(599.2 582.25) scale(0.87 1) rotate(0.03)" class="r">Germany</text>
<text transform="translate(646.1 582.25) scale(0.87 1) rotate(0.03)" class="r">1997</text>
<text transform="translate(676.9 582.25) scale(0.87 1) rotate(0.03)" class="r">JQ411574</text>
<text transform="translate(518.5 590.92) scale(0.87 1) rotate(0.03)" class="r">CSF857/2006</text>
<text transform="translate(599.2 589.67) scale(0.87 1) rotate(0.03)" class="r">Germany</text>
<text transform="translate(646.1 589.67) scale(0.87 1) rotate(0.03)" class="r">2006</text>
<text transform="translate(676.9 589.67) scale(0.87 1) rotate(0.03)" class="r">GU233731</text>
<text transform="translate(518.5 598.34) scale(0.87 1) rotate(0.03)" class="r">Sp01</text>
<text transform="translate(599.2 597.09) scale(0.87 1) rotate(0.03)" class="r">Spain</text>
<text transform="translate(647 597.09) scale(0.87 1) rotate(0.03)" class="r">2001</text>
<text transform="translate(677.8 597.09) scale(0.87 1) rotate(0.03)" class="r">FJ265020</text>
<text transform="translate(518.5 605.75) scale(0.87 1) rotate(0.03)" class="r">CSF0750</text>
<text transform="translate(599.2 604.5) scale(0.87 1) rotate(0.03)" class="r">Spain</text>
<text transform="translate(647 604.5) scale(0.87 1) rotate(0.03)" class="r">2001</text>
<text transform="translate(677.8 604.5) scale(0.87 1) rotate(0.03)" class="r">JQ411585</text>
<text transform="translate(518.5 613.17) scale(0.87 1) rotate(0.03)" class="r">CSF0120</text>
<text transform="translate(599.2 611.92) scale(0.87 1) rotate(0.03)" class="r">Austria</text>
<text transform="translate(645.3 611.92) scale(0.87 1) rotate(0.03)" class="r">1994</text>
<text transform="translate(676.2 611.92) scale(0.87 1) rotate(0.03)" class="r">JQ411565</text>
<text transform="translate(518.5 620.59) scale(0.87 1) rotate(0.03)" class="r">CSF0867</text>
<text transform="translate(599.2 619.34) scale(0.87 1) rotate(0.03)" class="r">Croatia</text>
<text transform="translate(645.3 619.34) scale(0.87 1) rotate(0.03)" class="r">2006</text>
<text transform="translate(676.2 619.34) scale(0.87 1) rotate(0.03)" class="r">JQ411586</text>
<text transform="translate(518.5 628.01) scale(0.87 1) rotate(0.03)" class="r">CSF1027</text>
<text transform="translate(599.2 626.76) scale(0.87 1) rotate(0.03)" class="r">Hungary</text>
<text transform="translate(645.3 626.76) scale(0.87 1) rotate(0.03)" class="r">2007</text>
<text transform="translate(676.2 626.76) scale(0.87 1) rotate(0.03)" class="r">JQ411589</text>
<text transform="translate(518.5 635.42) scale(0.87 1) rotate(0.03)" class="r">CSF1032</text>
<text transform="translate(599.2 634.17) scale(0.87 1) rotate(0.03)" class="r">Slovakia</text>
<text transform="translate(645.3 634.17) scale(0.87 1) rotate(0.03)" class="r">2007</text>
<text transform="translate(676.2 634.17) scale(0.87 1) rotate(0.03)" class="r">JQ411590</text>
<text transform="translate(518.5 642.84) scale(0.87 1) rotate(0.03)" class="r">CSF0710</text>
<text transform="translate(599.2 641.59) scale(0.87 1) rotate(0.03)" class="r">Slovakia</text>
<text transform="translate(645.3 641.59) scale(0.87 1) rotate(0.03)" class="r">2000</text>
<text transform="translate(676.2 641.59) scale(0.87 1) rotate(0.03)" class="r">JQ411583</text>
<text transform="translate(518.5 650.26) scale(0.87 1) rotate(0.03)" class="r">CSF0372</text>
<text transform="translate(599.2 649.01) scale(0.87 1) rotate(0.03)" class="r">Czech</text>
<text transform="translate(645.3 649.01) scale(0.87 1) rotate(0.03)" class="r">1996</text>
<text transform="translate(676.2 649.01) scale(0.87 1) rotate(0.03)" class="r">JQ411572</text>
<text transform="translate(518.5 657.67) scale(0.87 1) rotate(0.03)" class="r">CSF0291</text>
<text transform="translate(599.2 656.42) scale(0.87 1) rotate(0.03)" class="r">Poland</text>
<text transform="translate(645.3 656.42) scale(0.87 1) rotate(0.03)" class="r">1995</text>
<text transform="translate(676.2 656.42) scale(0.87 1) rotate(0.03)" class="r">JQ411569</text>
<text transform="translate(518.5 665.09) scale(0.87 1) rotate(0.03)" class="r">CSF0821/2002</text>
<text transform="translate(599.2 663.84) scale(0.87 1) rotate(0.03)" class="r">Croatia</text>
<text transform="translate(645.6 663.84) scale(0.87 1) rotate(0.03)" class="r">2002</text>
<text transform="translate(676.7 663.84) scale(0.87 1) rotate(0.03)" class="r">HQ148061</text>
<text transform="translate(518.5 672.51) scale(0.87 1) rotate(0.03)" class="r">CSF0290</text>
<text transform="translate(599.2 671.26) scale(0.87 1) rotate(0.03)" class="r">Poland</text>
<text transform="translate(645.3 671.26) scale(0.87 1) rotate(0.03)" class="r">1995</text>
<text transform="translate(676.2 671.26) scale(0.87 1) rotate(0.03)" class="r">JQ411568</text>
<text transform="translate(518.5 679.92) scale(0.87 1) rotate(0.03)" class="r">CSF0104</text>
<text transform="translate(599.2 678.67) scale(0.87 1) rotate(0.03)" class="r">Germany</text>
<text transform="translate(646.5 678.67) scale(0.87 1) rotate(0.03)" class="r">1994</text>
<text transform="translate(677 678.67) scale(0.87 1) rotate(0.03)" class="r">JQ411564</text>
<text transform="translate(518.5 687.34) scale(0.87 1) rotate(0.03)" class="r">XXX0609/2004</text>
<text transform="translate(599.2 686.09) scale(0.87 1) rotate(0.03)" class="r">Germany</text>
<text transform="translate(646.5 686.09) scale(0.87 1) rotate(0.03)" class="r">2004</text>
<text transform="translate(677 686.09) scale(0.87 1) rotate(0.03)" class="r">GU324242</text>
<text transform="translate(518.5 694.76) scale(0.87 1) rotate(0.03)" class="r">CSF0729</text>
<text transform="translate(599.2 693.51) scale(0.87 1) rotate(0.03)" class="r">Germany</text>
<text transform="translate(646.5 693.51) scale(0.87 1) rotate(0.03)" class="r">2000</text>
<text transform="translate(677 693.51) scale(0.87 1) rotate(0.03)" class="r">JQ411584</text>
<text transform="translate(518.5 702.18) scale(0.87 1) rotate(0.03)" class="r">CSF864/2007</text>
<text transform="translate(599.2 700.93) scale(0.87 1) rotate(0.03)" class="r">Bulgaria</text>
<text transform="translate(647 700.93) scale(0.87 1) rotate(0.03)" class="r">2007</text>
<text transform="translate(678 700.93) scale(0.87 1) rotate(0.03)" class="r">HQ148062</text>
<text transform="translate(518.5 709.59) scale(0.87 1) rotate(0.03)" class="r">Alfort/Tuebingen</text>
<text transform="translate(599.2 708.34) scale(0.87 1) rotate(0.03)" class="r">Germany</text>
<text transform="translate(646.5 708.34) scale(0.87 1) rotate(0.03)" class="r">1999</text>
<text transform="translate(677 708.34) scale(0.87 1) rotate(0.03)" class="r">J04358</text>
<text transform="translate(518.5 717.01) scale(0.87 1) rotate(0.03)" class="r">CSF0002</text>
<text transform="translate(599.2 715.76) scale(0.87 1) rotate(0.03)" class="r">Germany</text>
<text transform="translate(646.5 715.76) scale(0.87 1) rotate(0.03)" class="r">1984</text>
<text transform="translate(677 715.76) scale(0.87 1) rotate(0.03)" class="r">JQ411559</text>
<text transform="translate(518.5 724.43) scale(0.87 1) rotate(0.03)" class="r">CSF0496</text>
<text transform="translate(599.2 723.18) scale(0.87 1) rotate(0.03)" class="r">Germany</text>
<text transform="translate(646.5 723.18) scale(0.87 1) rotate(0.03)" class="r">1982</text>
<text transform="translate(677 723.18) scale(0.87 1) rotate(0.03)" class="r">JQ411578</text>
<text transform="translate(518.5 731.84) scale(0.87 1) rotate(0.03)" class="r">CSF1060</text>
<text transform="translate(599.2 730.59) scale(0.87 1) rotate(0.03)" class="r">Nepal</text>
<text transform="translate(645.2 730.59) scale(0.87 1) rotate(0.03)" class="r">2011</text>
<text transform="translate(675.9 730.59) scale(0.87 1) rotate(0.03)" class="r">JX162241</text>
<text transform="translate(518.5 739.26) scale(0.87 1) rotate(0.03)" class="r">CSF1059</text>
<text transform="translate(599.2 738.01) scale(0.87 1) rotate(0.03)" class="r">Nepal</text>
<text transform="translate(645.2 738.01) scale(0.87 1) rotate(0.03)" class="r">2011</text>
<text transform="translate(675.9 738.01) scale(0.87 1) rotate(0.03)" class="r">JX162240</text>
<text transform="translate(518.5 746.68) scale(0.87 1) rotate(0.03)" class="r">CSFV 39</text>
<text transform="translate(599.2 745.43) scale(0.87 1) rotate(0.03)" class="r">China</text>
<text transform="translate(645.2 745.43) scale(0.87 1) rotate(0.03)" class="r">2001</text>
<text transform="translate(675.9 745.43) scale(0.87 1) rotate(0.03)" class="r">AF407339</text>
<text transform="translate(518.5 754.09) scale(0.87 1) rotate(0.03)" class="r">84-KS1</text>
<text transform="translate(599.2 752.84) scale(0.87 1) rotate(0.03)" class="r">Taiwan</text>
<text transform="translate(645.6 752.84) scale(0.87 1) rotate(0.03)" class="r">1995</text>
<text transform="translate(676.6 752.84) scale(0.87 1) rotate(0.03)" class="r">AY526729</text>
<text transform="translate(518.5 761.51) scale(0.87 1) rotate(0.03)" class="r">CSF0378</text>
<text transform="translate(599.2 760.26) scale(0.87 1) rotate(0.03)" class="r">Czech</text>
<text transform="translate(645.6 760.26) scale(0.87 1) rotate(0.03)" class="r">1994</text>
<text transform="translate(676.6 760.26) scale(0.87 1) rotate(0.03)" class="r">JQ411573</text>
<text transform="translate(518.5 768.93) scale(0.87 1) rotate(0.03)" class="r">CSF0073</text>
<text transform="translate(599.2 767.68) scale(0.87 1) rotate(0.03)" class="r">Austria</text>
<text transform="translate(645.6 767.68) scale(0.87 1) rotate(0.03)" class="r">1990</text>
<text transform="translate(676.6 767.68) scale(0.87 1) rotate(0.03)" class="r">JQ411562</text>
<text transform="translate(518.5 776.35) scale(0.87 1) rotate(0.03)" class="rb">ND20</text>
<text transform="translate(599.2 775.1) scale(0.87 1) rotate(0.03)" class="rb">Vietnam</text>
<text transform="translate(645.6 775.1) scale(0.87 1) rotate(0.03)" class="rb">2014</text>
<text transform="translate(678 775.1) scale(0.87 1) rotate(0.03)" class="rb">KP702209</text>
<text transform="translate(518.5 783.76) scale(0.87 1) rotate(0.03)" class="rb">ND2</text>
<text transform="translate(599.2 782.51) scale(0.87 1) rotate(0.03)" class="rb">Vietnam</text>
<text transform="translate(645.6 782.51) scale(0.87 1) rotate(0.03)" class="rb">2014</text>
<text transform="translate(678 782.51) scale(0.87 1) rotate(0.03)" class="rb">KP702207</text>
<text transform="translate(518.5 791.18) scale(0.87 1) rotate(0.03)" class="rb">ND21</text>
<text transform="translate(599.2 789.93) scale(0.87 1) rotate(0.03)" class="rb">Vietnam</text>
<text transform="translate(645.6 789.93) scale(0.87 1) rotate(0.03)" class="rb">2014</text>
<text transform="translate(678 789.93) scale(0.87 1) rotate(0.03)" class="rb">KP702210</text>
<text transform="translate(518.5 798.6) scale(0.87 1) rotate(0.03)" class="r">CSF0573</text>
<text transform="translate(599.2 797.35) scale(0.87 1) rotate(0.03)" class="r">Italy</text>
<text transform="translate(645.6 797.35) scale(0.87 1) rotate(0.03)" class="r">1998</text>
<text transform="translate(676.6 797.35) scale(0.87 1) rotate(0.03)" class="r">JQ411579</text>
<text transform="translate(518.5 806.01) scale(0.87 1) rotate(0.03)" class="r">CSF0014</text>
<text transform="translate(599.2 804.76) scale(0.87 1) rotate(0.03)" class="r">Germany</text>
<text transform="translate(645.6 804.76) scale(0.87 1) rotate(0.03)" class="r">1989</text>
<text transform="translate(677.3 804.76) scale(0.87 1) rotate(0.03)" class="r">JQ411560</text>
<rect x="484.1" y="205.1" width="232.5" height="8.2" class="bx"/>
<rect x="483.8" y="294.4" width="232.6" height="35.9" class="bx"/>
<rect x="483.8" y="353.2" width="232.6" height="75.4" class="bx"/>
<rect x="483.8" y="449.6" width="233.1" height="7.9" class="bx"/>
<rect x="482.4" y="768.5" width="236.5" height="22.6" class="bx"/>
<path class="bar" d="M732.4 117.6V291M732.4 297.2V455.5M732.4 460.3V514.3M732.4 519.5V720.7M732.4 724V806.2"/>
<path class="bar2" d="M399.8 17.5V123.7"/>
<text transform="translate(737.8 204.8) scale(0.91 1) rotate(0.03)" class="cl">2.1b</text>
<text transform="translate(737.8 364.5) scale(0.91 1) rotate(0.03)" class="cl">2.1c</text>
<text transform="translate(737.8 490.2) scale(0.91 1) rotate(0.03)" class="cl">2.1a</text>
<text transform="translate(737.8 627.7) scale(0.91 1) rotate(0.03)" class="cl">2.3</text>
<text transform="translate(737.8 767.4) scale(0.91 1) rotate(0.03)" class="cl">2.2</text>
<text transform="translate(410.8 75.5) scale(0.91 1) rotate(0.03)" class="cl">2.1d</text>
<path d="M41.6 826.6H515.9M41.6 826.6V834.6M120.7 826.6V829.6M200.1 826.6V834.6M278.7 826.6V829.6M357.8 826.6V834.6M436.5 826.6V829.6M515.9 826.6V834.6" fill="none" stroke="#333" stroke-width="1.3"/>
<text transform="translate(41.6 853.3) scale(0.866 1) rotate(0.03)" class="ax" text-anchor="middle">1867</text>
<text transform="translate(120.7 853.3) scale(0.866 1) rotate(0.03)" class="ax" text-anchor="middle">1892</text>
<text transform="translate(200.1 853.3) scale(0.866 1) rotate(0.03)" class="ax" text-anchor="middle">1917</text>
<text transform="translate(278.7 853.3) scale(0.866 1) rotate(0.03)" class="ax" text-anchor="middle">1942</text>
<text transform="translate(357.8 853.3) scale(0.866 1) rotate(0.03)" class="ax" text-anchor="middle">1967</text>
<text transform="translate(436.5 853.3) scale(0.866 1) rotate(0.03)" class="ax" text-anchor="middle">1992</text>
<text transform="translate(515.9 853.3) scale(0.866 1) rotate(0.03)" class="ax" text-anchor="middle">2018</text>
</svg>
</body></html>
